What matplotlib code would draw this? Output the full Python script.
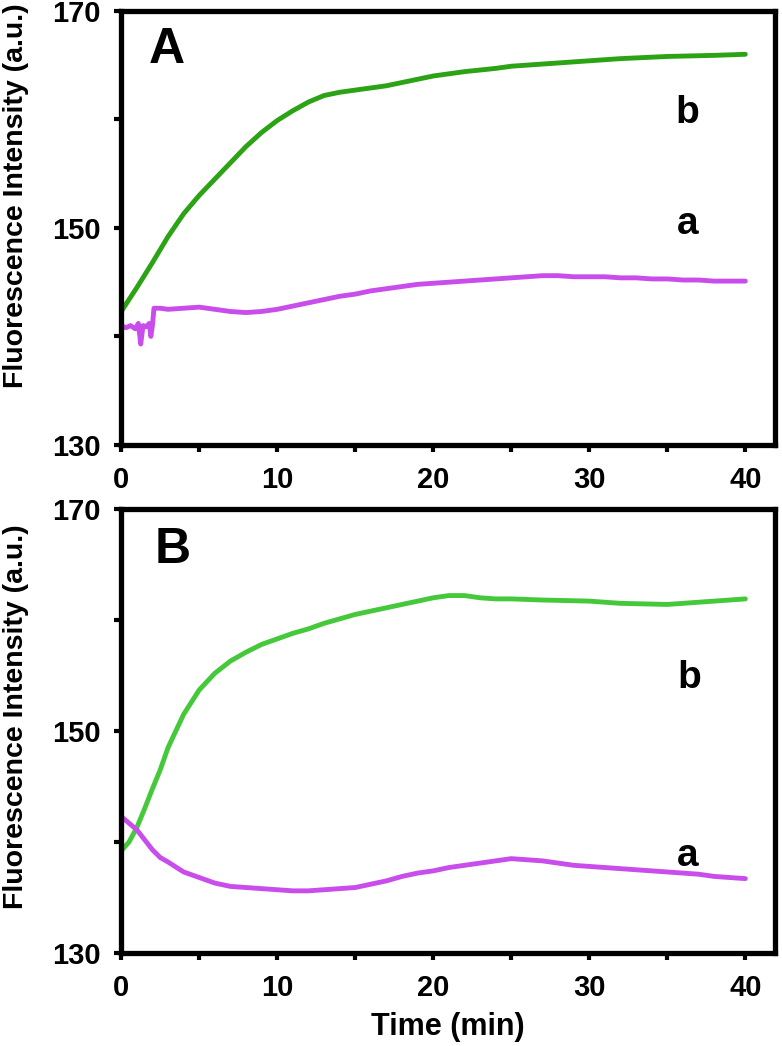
import matplotlib
matplotlib.use("Agg")
import matplotlib.pyplot as plt
from matplotlib.ticker import MultipleLocator

plt.rcParams['font.family'] = ['Liberation Sans', 'DejaVu Sans']
plt.rcParams['font.weight'] = 'bold'

# ---- Panel A data ----
time_A_a = [0, 0.3, 0.6, 0.9, 1.1, 1.25, 1.4, 1.6, 1.8, 1.9, 2.0, 2.1, 2.5, 3, 4, 5, 6, 7, 8, 9, 10,
            11, 12, 13, 14, 15, 16, 17, 18, 19, 20, 21, 22, 23, 24, 25, 26, 27, 28, 29, 30,
            31, 32, 33, 34, 35, 36, 37, 38, 39, 40]
fluor_A_a = [141.0, 140.8, 141.0, 140.7, 141.2, 139.3, 141.0, 140.9, 141.2, 140.0, 141.0, 142.6, 142.6,
             142.5, 142.6, 142.7, 142.5, 142.3, 142.2, 142.3, 142.5, 142.8, 143.1, 143.4, 143.7,
             143.9, 144.2, 144.4, 144.6, 144.8, 144.9, 145.0, 145.1, 145.2, 145.3, 145.4, 145.5,
             145.6, 145.6, 145.5, 145.5, 145.5, 145.4, 145.4, 145.3, 145.3, 145.2, 145.2, 145.1,
             145.1, 145.1]

time_A_b = [0, 1, 2, 3, 4, 5, 6, 7, 8, 9, 10, 11, 12, 13, 14, 15, 16, 17, 18, 19, 20, 22, 24,
            25, 27, 30, 32, 35, 38, 40]
fluor_A_b = [142.3, 144.5, 146.8, 149.2, 151.3, 153.0, 154.5, 156.0, 157.5, 158.8, 159.9, 160.8,
             161.6, 162.2, 162.5, 162.7, 162.9, 163.1, 163.4, 163.7, 164.0, 164.4, 164.7, 164.9,
             165.1, 165.4, 165.6, 165.8, 165.9, 166.0]

# ---- Panel B data ----
time_B_a = [0, 1, 2, 2.5, 3, 4, 5, 6, 7, 8, 9, 10, 11, 12, 13, 14, 15, 16, 17, 18, 19, 20, 21, 22,
            23, 24, 25, 26, 27, 28, 29, 30, 31, 32, 33, 34, 35, 36, 37, 38, 39, 40]
fluor_B_a = [142.3, 141.1, 139.3, 138.6, 138.2, 137.3, 136.8, 136.3, 136.0, 135.9, 135.8, 135.7,
             135.6, 135.6, 135.7, 135.8, 135.9, 136.2, 136.5, 136.9, 137.2, 137.4, 137.7, 137.9,
             138.1, 138.3, 138.5, 138.4, 138.3, 138.1, 137.9, 137.8, 137.7, 137.6, 137.5, 137.4,
             137.3, 137.2, 137.1, 136.9, 136.8, 136.7]

time_B_b = [0, 0.5, 1, 1.5, 2, 2.5, 3, 4, 5, 6, 7, 8, 9, 10, 11, 12, 13, 14, 15, 16, 17, 18, 19,
            20, 21, 22, 23, 24, 25, 27, 30, 32, 35, 37, 40]
fluor_B_b = [139.2, 140.0, 141.3, 143.0, 144.8, 146.5, 148.5, 151.5, 153.7, 155.2, 156.3, 157.1,
             157.8, 158.3, 158.8, 159.2, 159.7, 160.1, 160.5, 160.8, 161.1, 161.4, 161.7, 162.0,
             162.2, 162.2, 162.0, 161.9, 161.9, 161.8, 161.7, 161.5, 161.4, 161.6, 161.9]

x_ticks = [0, 10, 20, 30, 40]
y_ticks = [130, 150, 170]

col_green_A = '#2BA315'
col_green_B = '#45C93A'
col_magenta = '#C94DEA'

fig = plt.figure(figsize=(7.82, 10.46), dpi=100)
axA = fig.add_axes([0.155, 0.5746, 0.836, 0.415])
axB = fig.add_axes([0.155, 0.0889, 0.836, 0.4245])

panels = [
    (axA, time_A_a, fluor_A_a, time_A_b, fluor_A_b, col_green_A, 'A',
     (2.9, 166.4), (36.3, 160.6), (36.3, 150.4)),
    (axB, time_B_a, fluor_B_a, time_B_b, fluor_B_b, col_green_B, 'B',
     (3.3, 166.3), (36.4, 154.8), (36.3, 138.7)),
]

for ax, ta, fa, tb, fb, gcol, letter, lpos, bpos, apos in panels:
    ax.plot(tb, fb, color=gcol, lw=3.5, solid_capstyle='round')
    ax.plot(ta, fa, color=col_magenta, lw=3.5, solid_capstyle='round')
    ax.set_xlim(0, 41.9)
    ax.set_ylim(130, 170)
    ax.set_xticks(x_ticks)
    ax.set_yticks(y_ticks)
    ax.xaxis.set_minor_locator(MultipleLocator(5))
    ax.yaxis.set_minor_locator(MultipleLocator(10))
    ax.tick_params(which='both', direction='out', width=3, length=5, labelsize=21, pad=10)
    for lab in ax.get_xticklabels() + ax.get_yticklabels():
        lab.set_fontweight('bold')
    for sp in ax.spines.values():
        sp.set_linewidth(3.8)
    ax.text(lpos[0], lpos[1], letter, fontsize=36, fontweight='bold', ha='center', va='center')
    ax.text(bpos[0], bpos[1], 'b', fontsize=28, fontweight='bold', ha='center', va='center')
    ax.text(apos[0], apos[1], 'a', fontsize=28, fontweight='bold', ha='center', va='center')

# y labels, placed in figure coordinates
fig.text(16 / 782, 1 - 196 / 1046, 'Fluorescence Intensity (a.u.)', rotation=90,
         fontsize=20.5, fontweight='bold', ha='center', va='center')
fig.text(16 / 782, 1 - 717 / 1046, 'Fluorescence Intensity (a.u.)', rotation=90,
         fontsize=20.5, fontweight='bold', ha='center', va='center')

axB.set_xlabel('Time (min)', fontsize=22, fontweight='bold', labelpad=7)

fig.savefig('out.png', dpi=100)
